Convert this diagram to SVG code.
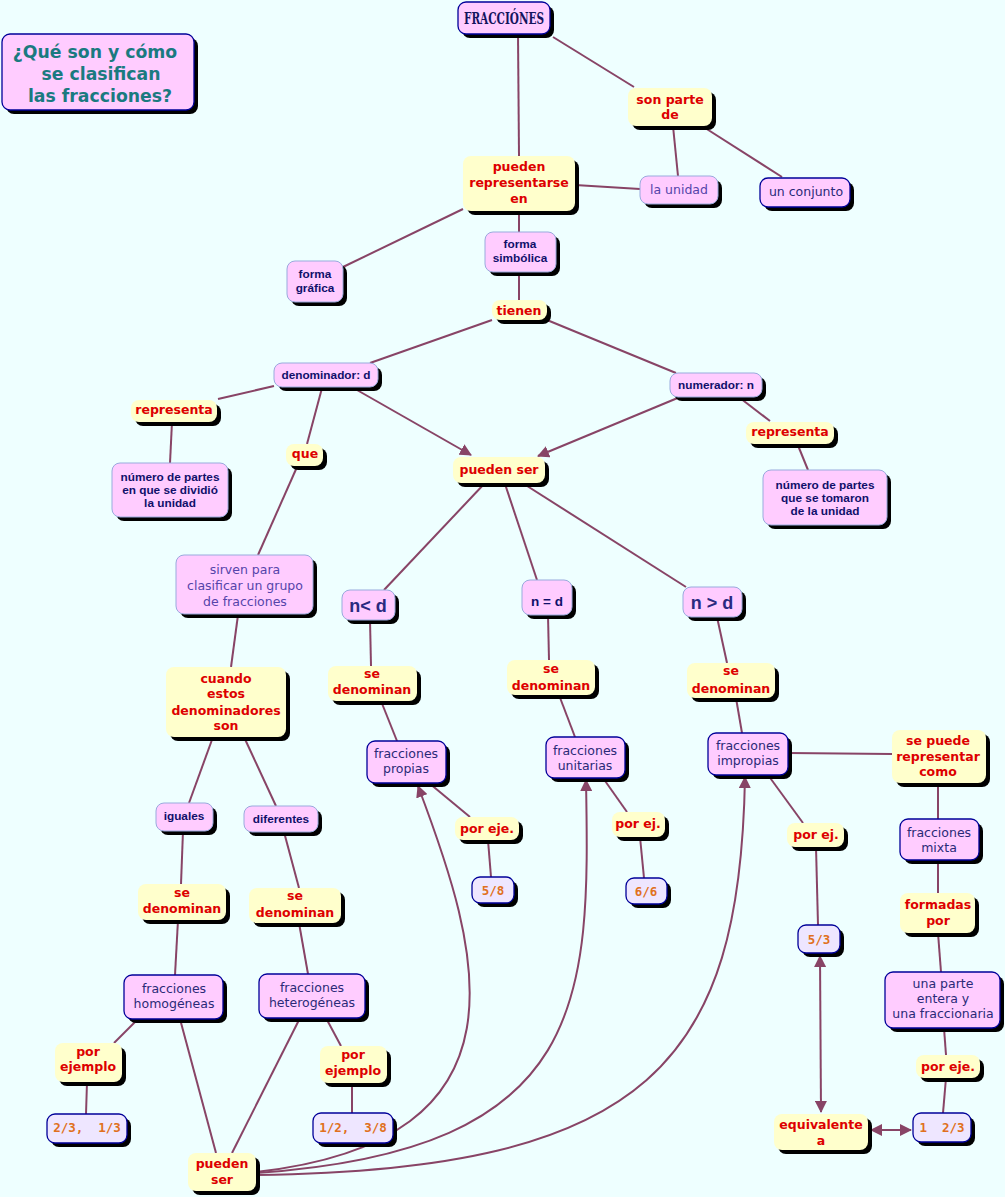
<svg xmlns="http://www.w3.org/2000/svg" width="1005" height="1197" viewBox="0 0 1005 1197">
<style>
.bg{fill:#EEFFFF}
.sh{fill:#000}
.pk{fill:#FFCCFF;stroke:#99AADD;stroke-width:1}
.pd{fill:#FFCCFF;stroke:#000099;stroke-width:1.3}
.yl{fill:#FFFFCC;stroke:none}
.nb{fill:#EEE6FF;stroke:#000099;stroke-width:1.3}
text{text-anchor:middle}
.tr{font-family:'DejaVu Sans',sans-serif;font-weight:bold;font-size:12.5px;fill:#DD0000}
.tb{font-family:'Liberation Sans',Arial,sans-serif;font-weight:bold;font-size:11.8px;fill:#10106A}
.tn{font-family:'DejaVu Sans',sans-serif;font-size:12.5px;fill:#5544AA}
.td{font-family:'DejaVu Sans',sans-serif;font-size:12.5px;fill:#2A2A77}
.to{font-family:'DejaVu Sans Mono',monospace;font-weight:bold;font-size:12.5px;fill:#E07020;white-space:pre}
.tbig{font-family:'Liberation Sans',Arial,sans-serif;font-weight:bold;font-size:18px;fill:#2A2A80}
.tmid{font-family:'Liberation Sans',Arial,sans-serif;font-weight:bold;font-size:13.5px;fill:#10106A}
.ln{stroke:#884466;stroke-width:2;fill:none}
</style>
<defs>
<marker id="ah" viewBox="0 0 12 12" refX="11" refY="6" markerWidth="12" markerHeight="12" markerUnits="userSpaceOnUse" orient="auto-start-reverse">
<path d="M0,0 L12,6 L0,12 z" fill="#884466"/>
</marker>
</defs>
<rect class="bg" x="0" y="0" width="1005" height="1197"/>
<g id="connectors">
<line class="ln" x1="518" y1="34" x2="519" y2="156"/>
<line class="ln" x1="553" y1="37" x2="634" y2="87"/>
<line class="ln" x1="673" y1="126" x2="678" y2="176"/>
<line class="ln" x1="702" y1="126" x2="782" y2="177"/>
<line class="ln" x1="575" y1="185" x2="640" y2="189"/>
<line class="ln" x1="463" y1="209" x2="343" y2="267"/>
<line class="ln" x1="519" y1="211" x2="519" y2="232"/>
<line class="ln" x1="519" y1="272" x2="519" y2="300"/>
<line class="ln" x1="492" y1="320" x2="370" y2="363"/>
<line class="ln" x1="547" y1="320" x2="676" y2="373"/>
<line class="ln" x1="274" y1="386" x2="218" y2="399"/>
<line class="ln" x1="172" y1="422" x2="170" y2="463"/>
<line class="ln" x1="322" y1="388" x2="307" y2="444"/>
<line class="ln" x1="297" y1="467" x2="258" y2="555"/>
<line class="ln" x1="357" y1="390" x2="471" y2="455" marker-end="url(#ah)"/>
<line class="ln" x1="680" y1="397" x2="538" y2="456" marker-end="url(#ah)"/>
<line class="ln" x1="740" y1="398" x2="770" y2="421"/>
<line class="ln" x1="797" y1="443" x2="808" y2="470"/>
<line class="ln" x1="485" y1="483" x2="384" y2="590"/>
<line class="ln" x1="505" y1="484" x2="537" y2="580"/>
<line class="ln" x1="524" y1="484" x2="686" y2="587"/>
<line class="ln" x1="238" y1="615" x2="231" y2="667"/>
<line class="ln" x1="213" y1="737" x2="189" y2="803"/>
<line class="ln" x1="244" y1="737" x2="276" y2="806"/>
<line class="ln" x1="370" y1="620" x2="371" y2="666"/>
<line class="ln" x1="381" y1="701" x2="397" y2="741"/>
<line class="ln" x1="429" y1="783" x2="470" y2="817"/>
<line class="ln" x1="488" y1="840" x2="491" y2="877"/>
<line class="ln" x1="548" y1="615" x2="549" y2="660"/>
<line class="ln" x1="559" y1="695" x2="575" y2="737"/>
<line class="ln" x1="603" y1="778" x2="627" y2="812"/>
<line class="ln" x1="640" y1="837" x2="644" y2="878"/>
<line class="ln" x1="717" y1="617" x2="727" y2="663"/>
<line class="ln" x1="736" y1="698" x2="742" y2="733"/>
<line class="ln" x1="788" y1="753" x2="892" y2="754"/>
<line class="ln" x1="768" y1="775" x2="803" y2="823"/>
<line class="ln" x1="816" y1="847" x2="818" y2="925"/>
<line class="ln" x1="938" y1="783" x2="938" y2="819"/>
<line class="ln" x1="938" y1="860" x2="938" y2="893"/>
<line class="ln" x1="938" y1="933" x2="941" y2="972"/>
<line class="ln" x1="944" y1="1028" x2="946" y2="1055"/>
<line class="ln" x1="946" y1="1078" x2="943" y2="1113"/>
<line class="ln" x1="820" y1="956" x2="821" y2="1112" marker-start="url(#ah)" marker-end="url(#ah)"/>
<line class="ln" x1="871" y1="1130" x2="911" y2="1130" marker-start="url(#ah)" marker-end="url(#ah)"/>
<line class="ln" x1="183" y1="831" x2="181" y2="884"/>
<line class="ln" x1="178" y1="920" x2="175" y2="975"/>
<line class="ln" x1="284" y1="832" x2="299" y2="888"/>
<line class="ln" x1="299" y1="923" x2="308" y2="974"/>
<line class="ln" x1="138" y1="1019" x2="114" y2="1043"/>
<line class="ln" x1="87" y1="1082" x2="86" y2="1114"/>
<line class="ln" x1="180" y1="1019" x2="216" y2="1153"/>
<line class="ln" x1="300" y1="1018" x2="232" y2="1153"/>
<line class="ln" x1="326" y1="1018" x2="341" y2="1046"/>
<line class="ln" x1="352" y1="1083" x2="352" y2="1113"/>
<path class="ln" d="M256,1172 C540,1140 480,950 418,786" marker-end="url(#ah)"/>
<path class="ln" d="M256,1173 C590,1150 590,1000 586,780" marker-end="url(#ah)"/>
<path class="ln" d="M256,1175 C650,1170 740,1060 745,777" marker-end="url(#ah)"/>
</g>
<g id="n-fracciones"><rect class="sh" x="462" y="6" width="92" height="32" rx="8"/><rect class="pd" x="458" y="2" width="92" height="32" rx="8"/><text x="504" y="24" font-family="'DejaVu Serif',serif" font-weight="bold" font-size="16" fill="#14145E" textLength="80" lengthAdjust="spacingAndGlyphs">FRACCIÓNES</text></g>
<g id="n-titulo"><rect class="sh" x="6" y="38" width="192" height="76" rx="8"/><rect class="pd" x="2" y="34" width="192" height="76" rx="8"/><text font-family="'DejaVu Sans',sans-serif" font-weight="bold" font-size="17.3" fill="#1A7A80"><tspan x="95" y="58">¿Qué son y cómo</tspan><tspan x="101" y="80">se clasifican</tspan><tspan x="100" y="102">las fracciones?</tspan></text></g>
<g id="n-sonparte"><rect class="sh" x="632" y="92" width="84" height="38" rx="8"/><rect class="yl" x="628" y="88" width="84" height="38" rx="8"/><text class="tr"><tspan x="670" y="104">son parte</tspan><tspan x="670" y="119">de</tspan></text></g>
<g id="n-pueden-rep"><rect class="sh" x="467" y="160" width="112" height="55" rx="8"/><rect class="yl" x="463" y="156" width="112" height="55" rx="8"/><text class="tr"><tspan x="519" y="171">pueden</tspan><tspan x="519" y="187">representarse</tspan><tspan x="519" y="203">en</tspan></text></g>
<g id="n-launidad"><rect class="sh" x="644" y="180" width="78" height="28" rx="8"/><rect class="pk" x="640" y="176" width="78" height="28" rx="8"/><text class="tn" x="679" y="194">la unidad</text></g>
<g id="n-conjunto"><rect class="sh" x="764" y="182" width="90" height="29" rx="8"/><rect class="pd" x="760" y="178" width="90" height="29" rx="8"/><text class="td" x="806" y="196">un conjunto</text></g>
<g id="n-grafica"><rect class="sh" x="291" y="265" width="56" height="41" rx="8"/><rect class="pk" x="287" y="261" width="56" height="41" rx="8"/><text class="tb"><tspan x="315" y="278">forma</tspan><tspan x="315" y="292">gráfica</tspan></text></g>
<g id="n-simbolica"><rect class="sh" x="489" y="236" width="71" height="40" rx="8"/><rect class="pk" x="485" y="232" width="71" height="40" rx="8"/><text class="tb"><tspan x="520" y="248">forma</tspan><tspan x="520" y="262">simbólica</tspan></text></g>
<g id="n-tienen"><rect class="sh" x="496" y="304" width="55" height="20" rx="8"/><rect class="yl" x="492" y="300" width="55" height="20" rx="8"/><text class="tr" x="519" y="315">tienen</text></g>
<g id="n-denominador"><rect class="sh" x="278" y="367" width="104" height="24" rx="8"/><rect class="pk" x="274" y="363" width="104" height="24" rx="8"/><text class="tb" x="326" y="379">denominador: d</text></g>
<g id="n-numerador"><rect class="sh" x="674" y="377" width="92" height="24" rx="8"/><rect class="pk" x="670" y="373" width="92" height="24" rx="8"/><text class="tb" x="716" y="389">numerador: n</text></g>
<g id="n-representa1"><rect class="sh" x="135" y="404" width="86" height="22" rx="8"/><rect class="yl" x="131" y="400" width="86" height="22" rx="8"/><text class="tr" x="174" y="414">representa</text></g>
<g id="n-representa2"><rect class="sh" x="750" y="426" width="88" height="22" rx="8"/><rect class="yl" x="746" y="422" width="88" height="22" rx="8"/><text class="tr" x="790" y="436">representa</text></g>
<g id="n-partes1"><rect class="sh" x="116" y="467" width="116" height="54" rx="8"/><rect class="pk" x="112" y="463" width="116" height="54" rx="8"/><text class="tb"><tspan x="170" y="481">número de partes</tspan><tspan x="170" y="494">en que se dividió</tspan><tspan x="170" y="507">la unidad</tspan></text></g>
<g id="n-partes2"><rect class="sh" x="767" y="474" width="124" height="55" rx="8"/><rect class="pk" x="763" y="470" width="124" height="55" rx="8"/><text class="tb"><tspan x="825" y="489">número de partes</tspan><tspan x="825" y="502">que se tomaron</tspan><tspan x="825" y="515">de la unidad</tspan></text></g>
<g id="n-que"><rect class="sh" x="290" y="448" width="37" height="22" rx="8"/><rect class="yl" x="286" y="444" width="37" height="22" rx="8"/><text class="tr" x="305" y="458">que</text></g>
<g id="n-puedenser1"><rect class="sh" x="457" y="461" width="92" height="26" rx="8"/><rect class="yl" x="453" y="457" width="92" height="26" rx="8"/><text class="tr" x="499" y="474">pueden ser</text></g>
<g id="n-sirven"><rect class="sh" x="180" y="559" width="137" height="59" rx="8"/><rect class="pk" x="176" y="555" width="137" height="59" rx="8"/><text class="tn"><tspan x="245" y="574">sirven para</tspan><tspan x="245" y="590">clasificar un grupo</tspan><tspan x="245" y="606">de fracciones</tspan></text></g>
<g id="n-nmenord"><rect class="sh" x="346" y="594" width="53" height="30" rx="8"/><rect class="pk" x="342" y="590" width="53" height="30" rx="8"/><text class="tbig" x="368" y="612">n&lt; d</text></g>
<g id="n-nigualdad"><rect class="sh" x="526" y="584" width="50" height="35" rx="8"/><rect class="pk" x="522" y="580" width="50" height="35" rx="8"/><text class="tmid" x="547" y="606">n = d</text></g>
<g id="n-nmayord"><rect class="sh" x="687" y="591" width="59" height="30" rx="8"/><rect class="pk" x="683" y="587" width="59" height="30" rx="8"/><text class="tbig" x="712" y="609">n &gt; d</text></g>
<g id="n-cuando"><rect class="sh" x="170" y="671" width="120" height="70" rx="8"/><rect class="yl" x="166" y="667" width="120" height="70" rx="8"/><text class="tr"><tspan x="226" y="683">cuando</tspan><tspan x="226" y="698">estos</tspan><tspan x="226" y="715">denominadores</tspan><tspan x="226" y="730">son</tspan></text></g>
<g id="n-sedenom1"><rect class="sh" x="332" y="670" width="89" height="35" rx="8"/><rect class="yl" x="328" y="666" width="89" height="35" rx="8"/><text class="tr"><tspan x="372" y="678">se</tspan><tspan x="372" y="694">denominan</tspan></text></g>
<g id="n-sedenom2"><rect class="sh" x="511" y="664" width="88" height="35" rx="8"/><rect class="yl" x="507" y="660" width="88" height="35" rx="8"/><text class="tr"><tspan x="551" y="673">se</tspan><tspan x="551" y="690">denominan</tspan></text></g>
<g id="n-sedenom3"><rect class="sh" x="691" y="667" width="88" height="35" rx="8"/><rect class="yl" x="687" y="663" width="88" height="35" rx="8"/><text class="tr"><tspan x="731" y="675">se</tspan><tspan x="731" y="693">denominan</tspan></text></g>
<g id="n-propias"><rect class="sh" x="371" y="745" width="79" height="42" rx="8"/><rect class="pd" x="367" y="741" width="79" height="42" rx="8"/><text class="td"><tspan x="406" y="758">fracciones</tspan><tspan x="406" y="773">propias</tspan></text></g>
<g id="n-unitarias"><rect class="sh" x="550" y="741" width="79" height="41" rx="8"/><rect class="pd" x="546" y="737" width="79" height="41" rx="8"/><text class="td"><tspan x="585" y="755">fracciones</tspan><tspan x="585" y="770">unitarias</tspan></text></g>
<g id="n-impropias"><rect class="sh" x="712" y="737" width="80" height="42" rx="8"/><rect class="pd" x="708" y="733" width="80" height="42" rx="8"/><text class="td"><tspan x="748" y="750">fracciones</tspan><tspan x="748" y="765">impropias</tspan></text></g>
<g id="n-sepuede"><rect class="sh" x="896" y="734" width="94" height="53" rx="8"/><rect class="yl" x="892" y="730" width="94" height="53" rx="8"/><text class="tr"><tspan x="938" y="745">se puede</tspan><tspan x="938" y="761">representar</tspan><tspan x="938" y="776">como</tspan></text></g>
<g id="n-porej3"><rect class="sh" x="791" y="827" width="57" height="24" rx="8"/><rect class="yl" x="787" y="823" width="57" height="24" rx="8"/><text class="tr" x="816" y="839">por ej.</text></g>
<g id="n-mixta"><rect class="sh" x="904" y="823" width="79" height="41" rx="8"/><rect class="pd" x="900" y="819" width="79" height="41" rx="8"/><text class="td"><tspan x="939" y="837">fracciones</tspan><tspan x="939" y="852">mixta</tspan></text></g>
<g id="n-formadas"><rect class="sh" x="904" y="897" width="75" height="40" rx="8"/><rect class="yl" x="900" y="893" width="75" height="40" rx="8"/><text class="tr"><tspan x="938" y="909">formadas</tspan><tspan x="938" y="925">por</tspan></text></g>
<g id="n-53"><rect class="sh" x="802" y="929" width="42" height="28" rx="8"/><rect class="nb" x="798" y="925" width="42" height="28" rx="8"/><text class="to" x="819" y="944">5/3</text></g>
<g id="n-unaparte"><rect class="sh" x="889" y="976" width="115" height="56" rx="8"/><rect class="pd" x="885" y="972" width="115" height="56" rx="8"/><text class="td"><tspan x="943" y="988">una parte</tspan><tspan x="943" y="1003">entera y</tspan><tspan x="943" y="1018">una fraccionaria</tspan></text></g>
<g id="n-poreje2"><rect class="sh" x="920" y="1059" width="64" height="23" rx="8"/><rect class="yl" x="916" y="1055" width="64" height="23" rx="8"/><text class="tr" x="948" y="1071">por eje.</text></g>
<g id="n-123"><rect class="sh" x="917" y="1117" width="58" height="29" rx="8"/><rect class="nb" x="913" y="1113" width="58" height="29" rx="8"/><text class="to" x="942" y="1132">1  2/3</text></g>
<g id="n-equivalente"><rect class="sh" x="778" y="1118" width="94" height="36" rx="8"/><rect class="yl" x="774" y="1114" width="94" height="36" rx="8"/><text class="tr"><tspan x="821" y="1129">equivalente</tspan><tspan x="821" y="1145">a</tspan></text></g>
<g id="n-poreje1"><rect class="sh" x="459" y="821" width="64" height="23" rx="8"/><rect class="yl" x="455" y="817" width="64" height="23" rx="8"/><text class="tr" x="487" y="833">por eje.</text></g>
<g id="n-porej2"><rect class="sh" x="616" y="816" width="53" height="25" rx="8"/><rect class="yl" x="612" y="812" width="53" height="25" rx="8"/><text class="tr" x="638" y="828">por ej.</text></g>
<g id="n-58"><rect class="sh" x="476" y="881" width="42" height="26" rx="8"/><rect class="nb" x="472" y="877" width="42" height="26" rx="8"/><text class="to" x="493" y="895">5/8</text></g>
<g id="n-66"><rect class="sh" x="630" y="882" width="41" height="26" rx="8"/><rect class="nb" x="626" y="878" width="41" height="26" rx="8"/><text class="to" x="646" y="896">6/6</text></g>
<g id="n-iguales"><rect class="sh" x="160" y="807" width="57" height="28" rx="8"/><rect class="pk" x="156" y="803" width="57" height="28" rx="8"/><text class="tb" x="184" y="820">iguales</text></g>
<g id="n-diferentes"><rect class="sh" x="248" y="810" width="74" height="26" rx="8"/><rect class="pk" x="244" y="806" width="74" height="26" rx="8"/><text class="tb" x="281" y="823">diferentes</text></g>
<g id="n-sedenom4"><rect class="sh" x="142" y="888" width="88" height="36" rx="8"/><rect class="yl" x="138" y="884" width="88" height="36" rx="8"/><text class="tr"><tspan x="182" y="897">se</tspan><tspan x="182" y="913">denominan</tspan></text></g>
<g id="n-sedenom5"><rect class="sh" x="253" y="892" width="92" height="35" rx="8"/><rect class="yl" x="249" y="888" width="92" height="35" rx="8"/><text class="tr"><tspan x="295" y="900">se</tspan><tspan x="295" y="917">denominan</tspan></text></g>
<g id="n-homogeneas"><rect class="sh" x="128" y="979" width="99" height="44" rx="8"/><rect class="pd" x="124" y="975" width="99" height="44" rx="8"/><text class="td"><tspan x="174" y="993">fracciones</tspan><tspan x="174" y="1008">homogéneas</tspan></text></g>
<g id="n-heterogeneas"><rect class="sh" x="263" y="978" width="106" height="44" rx="8"/><rect class="pd" x="259" y="974" width="106" height="44" rx="8"/><text class="td"><tspan x="312" y="992">fracciones</tspan><tspan x="312" y="1007">heterogéneas</tspan></text></g>
<g id="n-porejemplo1"><rect class="sh" x="59" y="1047" width="67" height="39" rx="8"/><rect class="yl" x="55" y="1043" width="67" height="39" rx="8"/><text class="tr"><tspan x="88" y="1056">por</tspan><tspan x="88" y="1071">ejemplo</tspan></text></g>
<g id="n-porejemplo2"><rect class="sh" x="324" y="1050" width="67" height="37" rx="8"/><rect class="yl" x="320" y="1046" width="67" height="37" rx="8"/><text class="tr"><tspan x="353" y="1059">por</tspan><tspan x="353" y="1075">ejemplo</tspan></text></g>
<g id="n-2313"><rect class="sh" x="51" y="1118" width="80" height="29" rx="8"/><rect class="nb" x="47" y="1114" width="80" height="29" rx="8"/><text class="to" x="87" y="1132">2/3,  1/3</text></g>
<g id="n-1238"><rect class="sh" x="317" y="1117" width="80" height="30" rx="8"/><rect class="nb" x="313" y="1113" width="80" height="30" rx="8"/><text class="to" x="353" y="1132">1/2,  3/8</text></g>
<g id="n-puedenser2"><rect class="sh" x="192" y="1157" width="68" height="38" rx="8"/><rect class="yl" x="188" y="1153" width="68" height="38" rx="8"/><text class="tr"><tspan x="222" y="1168">pueden</tspan><tspan x="222" y="1184">ser</tspan></text></g>
</svg>
